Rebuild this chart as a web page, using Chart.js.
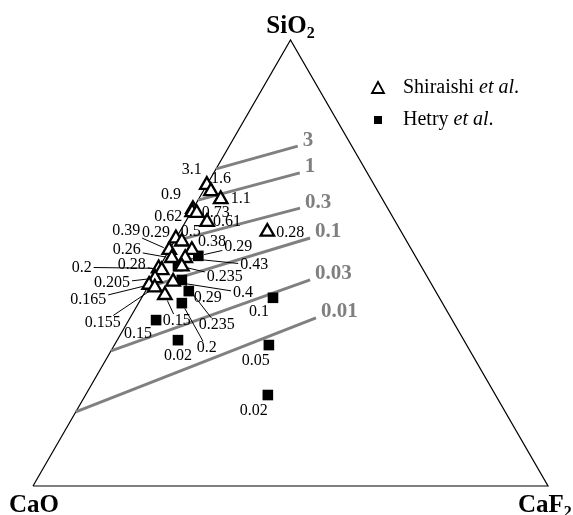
<!DOCTYPE html>
<html>
<head>
<meta charset="utf-8">
<script src="https://cdn.jsdelivr.net/npm/chart.js@4.4.1/dist/chart.umd.min.js"></script>
<style>
  html, body { margin: 0; padding: 0; background: #fff; }
  #wrap { width: 573px; height: 515px; position: relative; }
</style>
</head>
<body>
<div id="wrap"><canvas id="ternary"></canvas></div>
<script>
// compositions in mass %, CaO = 100 - SiO2 - CaF2
const shiraishiSiO2 = [67.5, 66.1, 64.3, 62.1, 61.4, 61.2, 59.2, 55.5, 54.8, 52.9, 52.9, 51.1, 51.1, 48.8, 48.4, 49.2, 46.6, 45.8, 45.1, 44.5, 42.8, 57.0]
const shiraishiCaF2 = [0, 1.5, 4.3, 0, 0.2, 1.2, 4.2, 0, 1.5, 4.4, 0, 1.4, 4.0, 0, 0.8, 4.3, 0.4, 4.3, 0, 1.4, 4.2, 17.0]
const shiraishiRate = ['3.1', '1.6', '1.1', '0.9', '0.62', '0.73', '0.61', '0.29', '0.5', '0.38', '0.39', '0.26', '0.43', '0.2', '0.28', '0.235', '0.205', '0.4', '0.165', '0.155', '0.15', '0.28']

const hetrySiO2 = [51.6, 49.3, 46.2, 43.7, 41.0, 37.2, 32.7, 42.2, 31.6, 20.4]
const hetryCaF2 = [6.3, 3.5, 5.8, 8.4, 8.4, 5.3, 11.8, 25.5, 30.0, 35.4]
const hetryRate = ['0.29', '', '0.235', '0.29', '0.2', '0.15', '0.02', '0.1', '0.05', '0.02']

// iso-lines start on the CaO-SiO2 side (CaF2 = 0)
const isoValues = ['3', '1', '0.3', '0.1', '0.03', '0.01']
const isoStartSiO2 = [71.1, 64.1, 54.9, 44.6, 30.3, 16.6]
const isoEndSiO2 = [76.2, 70.2, 62.3, 55.6, 46.2, 37.7]
const isoEndCaF2 = [13.3, 16.7, 20.7, 26.0, 30.7, 36.1]

// label placement (pixels from the marker), [dx, dy, leader]
const shiraishiLabelPos = [[-15,-15,0],[10,-12,0],[20,0,0],[-22,-14,0],[-24,5,0],[19,0,0],[20,0,0],[-20,-6,0],[9,-10,0],[20,-8,0],
  [-43,-19,1],[-45,-8,1],[69,7,1],[-77,-1,1],[-30,-5,1],[43,10,1],[-43,5,1],[70,11,1],[-61,15,1],[-52,35,1],[12,26,1],[23,1,0]]
const hetryLabelPos = [[40,-9,1],[0,0,0],[35,45,1],[19,7,0],[25,45,1],[-18,14,0],[0,16,0],[-14,14,0],[-13,16,0],[-14,16,0]]

const FONT = '"Liberation Serif", "Times New Roman", serif'

const toXY = (si, caf2) => ({ x: caf2 / 100 + si / 200, y: si / 100 })

let datasets = []
datasets.push({
  label: 'Shiraishi et al.',
  data: shiraishiSiO2.map((s, i) => toXY(s, shiraishiCaF2[i])),
  pointStyle: 'triangle', pointRadius: 7.8, pointBackgroundColor: '#fff',
  pointBorderColor: '#000', pointBorderWidth: 2.3, showLine: false
})
datasets.push({
  label: 'Hetry et al.',
  data: hetrySiO2.map((s, i) => toXY(s, hetryCaF2[i])),
  pointStyle: 'rect', pointRadius: 7.5, pointBackgroundColor: '#000',
  pointBorderColor: '#000', pointBorderWidth: 0, showLine: false
})
for (let i = 0; i < isoValues.length; i++) {
  datasets.push({
    label: 'iso ' + isoValues[i],
    data: [toXY(isoStartSiO2[i], 0), toXY(isoEndSiO2[i], isoEndCaF2[i])],
    showLine: true, borderColor: '#808080', borderWidth: 3, pointRadius: 0, borderCapStyle: 'butt'
  })
}
// triangle frame
datasets.push({
  label: 'frame',
  data: [toXY(0, 0), toXY(0, 100), toXY(100, 0), toXY(0, 0)],
  showLine: true, borderColor: '#000', borderWidth: 1.2, pointRadius: 0
})

const labelPlugin = {
  id: 'ternaryText',
  afterDatasetsDraw(chart) {
    const ctx = chart.ctx
    const xs = chart.scales.x, ys = chart.scales.y
    const P = (si, f) => [xs.getPixelForValue(f / 100 + si / 200), ys.getPixelForValue(si / 100)]
    ctx.save()

    const drawLabels = (sio2, caf2, texts, pos) => {
      ctx.font = '16px ' + FONT
      ctx.fillStyle = '#000'
      ctx.textAlign = 'center'
      ctx.textBaseline = 'middle'
      for (let i = 0; i < sio2.length; i++) {
        if (!texts[i]) continue
        const [x, y] = P(sio2[i], caf2[i])
        const tx = x + pos[i][0], ty = y + pos[i][1]
        ctx.fillText(texts[i], tx, ty)
        if (pos[i][2]) {
          const w = ctx.measureText(texts[i]).width
          const dx = tx - x, dy = ty - y
          const len = Math.hypot(dx, dy)
          const hw = w / 2 + 2, hh = 7
          const s = Math.min(Math.abs(dx) > 0 ? hw / Math.abs(dx) : 9, Math.abs(dy) > 0 ? hh / Math.abs(dy) : 9)
          const ex = tx - s * dx, ey = ty - s * dy
          const sx = x + dx / len * 6, sy = y + dy / len * 6
          ctx.strokeStyle = '#000'
          ctx.lineWidth = 1
          ctx.beginPath()
          ctx.moveTo(sx, sy)
          ctx.lineTo(ex, ey)
          ctx.stroke()
        }
      }
    }
    drawLabels(shiraishiSiO2, shiraishiCaF2, shiraishiRate, shiraishiLabelPos)
    drawLabels(hetrySiO2, hetryCaF2, hetryRate, hetryLabelPos)

    // iso-line values
    ctx.font = 'bold 21px ' + FONT
    ctx.fillStyle = '#7f7f7f'
    ctx.textAlign = 'left'
    ctx.textBaseline = 'middle'
    for (let i = 0; i < isoValues.length; i++) {
      const [x, y] = P(isoEndSiO2[i], isoEndCaF2[i])
      ctx.fillText(isoValues[i], x + 5, y - 6)
    }

    // corner labels
    const area = chart.chartArea
    const sub = (main, s, x, y, align) => {
      ctx.font = 'bold 25px ' + FONT
      const w1 = ctx.measureText(main).width
      let w2 = 0
      if (s) { ctx.font = 'bold 16px ' + FONT; w2 = ctx.measureText(s).width }
      let x0 = align === 'center' ? x - (w1 + w2) / 2 : x
      ctx.fillStyle = '#000'
      ctx.textAlign = 'left'
      ctx.textBaseline = 'alphabetic'
      ctx.font = 'bold 25px ' + FONT
      ctx.fillText(main, x0, y)
      if (s) { ctx.font = 'bold 16px ' + FONT; ctx.fillText(s, x0 + w1, y + 5) }
    }
    const apex = P(100, 0)
    sub('SiO', '2', apex[0], area.top - 7, 'center')
    sub('CaO', '', area.left - 24, area.bottom + 26, 'left')
    sub('CaF', '2', area.right - 30, area.bottom + 26, 'left')

    // legend
    const lx = 378
    ctx.strokeStyle = '#000'
    ctx.lineWidth = 1.8
    ctx.fillStyle = '#fff'
    ctx.beginPath()
    ctx.moveTo(lx, 82); ctx.lineTo(lx + 6, 93); ctx.lineTo(lx - 6, 93); ctx.closePath()
    ctx.fill(); ctx.stroke()
    ctx.fillStyle = '#000'
    ctx.fillRect(lx - 4, 116, 8, 8)
    const legendText = (name, y) => {
      ctx.textAlign = 'left'
      ctx.textBaseline = 'middle'
      ctx.font = '20px ' + FONT
      ctx.fillText(name + ' ', 403, y)
      const w = ctx.measureText(name + ' ').width
      ctx.font = 'italic 20px ' + FONT
      ctx.fillText('et al', 403 + w, y)
      const w2 = ctx.measureText('et al').width
      ctx.font = '20px ' + FONT
      ctx.fillText('.', 403 + w + w2, y)
    }
    legendText('Shiraishi', 88)
    legendText('Hetry', 120)
    ctx.restore()
  }
}

new Chart(document.getElementById('ternary'), {
  type: 'scatter',
  data: { datasets: datasets },
  options: {
    responsive: true,
    maintainAspectRatio: false,
    animation: false,
    events: [],
    clip: false,
    layout: { padding: { left: 33, right: 25, top: 40, bottom: 29 } },
    scales: {
      x: { type: 'linear', min: 0, max: 1, display: false },
      y: { type: 'linear', min: 0, max: 1, display: false }
    },
    plugins: {
      legend: { display: false },
      tooltip: { enabled: false }
    }
  },
  plugins: [labelPlugin]
})
</script>
</body>
</html>
